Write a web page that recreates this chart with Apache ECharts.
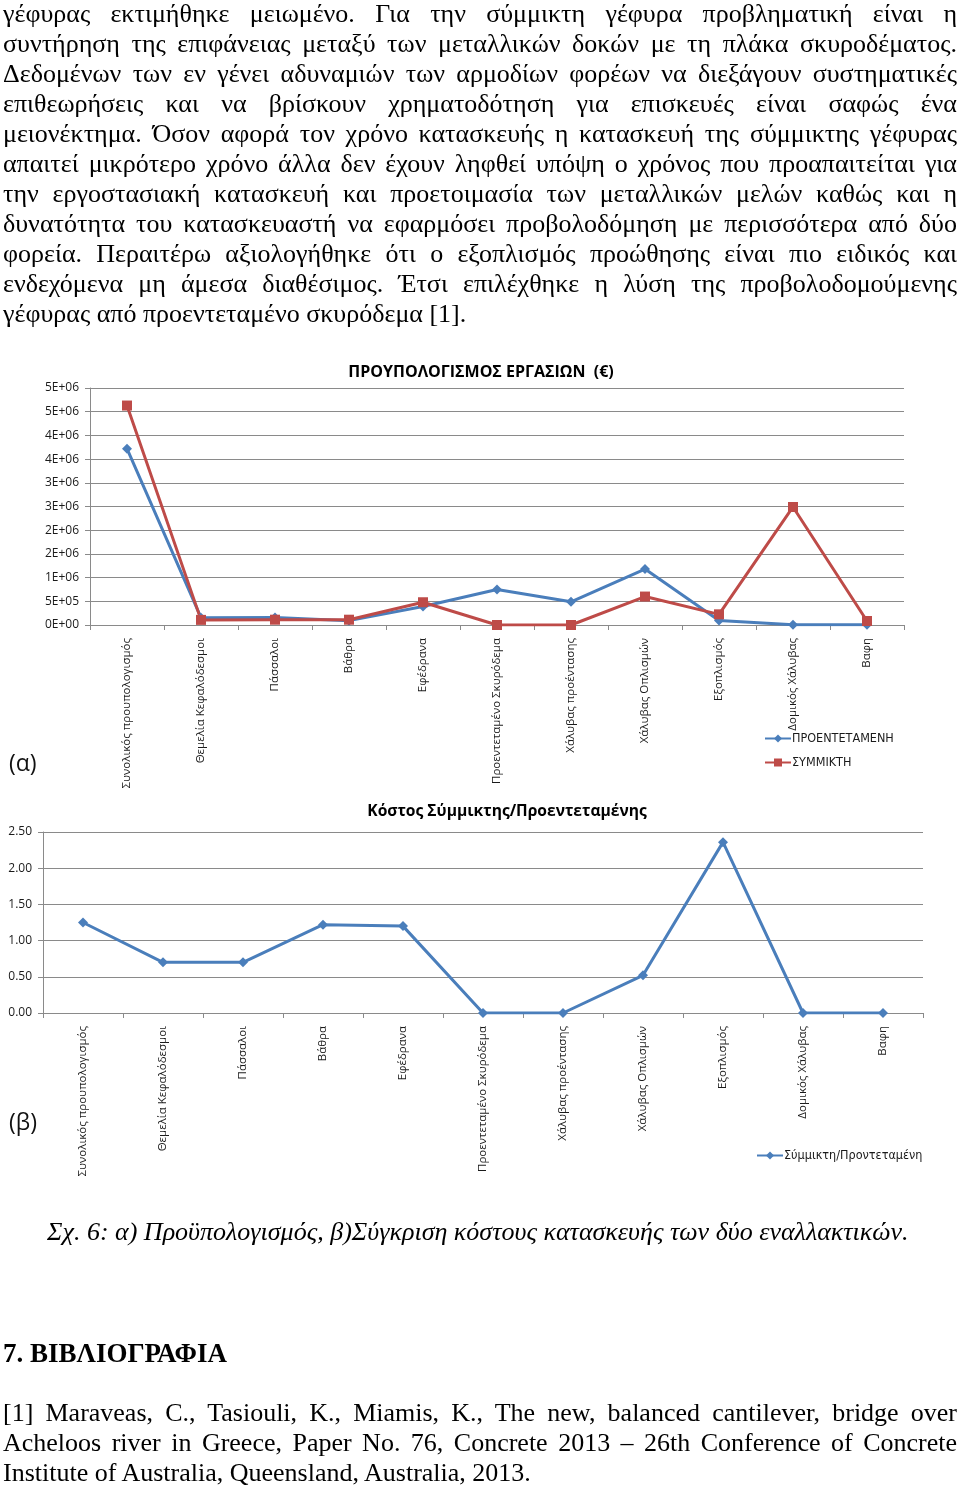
<!DOCTYPE html>
<html>
<head>
<meta charset="utf-8">
<script src="https://cdn.jsdelivr.net/npm/echarts@6/dist/echarts.min.js"></script>
<style>
  html, body { margin:0; padding:0; background:#fff; }
  body { width:960px; height:1486px; position:relative; overflow:hidden; }
  #chart { position:absolute; left:0; top:0; width:960px; height:1486px; z-index:0; }
  .ln { position:absolute; left:3px; width:954px; font-family:"Liberation Serif","Times New Roman",serif; font-size:26px; line-height:30px; color:#000; white-space:nowrap; z-index:1; }
</style>
</head>
<body>
<div id="chart"></div>
<div id="text"></div>
<script>
// ---------- data ----------
const categories = ['Συνολικός προυπολογισμός','Θεμελία Κεφαλόδεσμοι','Πάσσαλοι','Βάθρα','Εφέδρανα','Προεντεταμένο Σκυρόδεμα','Χάλυβας προέντασης','Χάλυβας Οπλισμών','Εξοπλισμός','Δομικός Χάλυβας','Βαφη'];
const prestressed = [3720000, 155000, 160000, 92000, 390000, 750000, 490000, 1180000, 95000, 5000, 5000];
const composite = [4630000, 108000, 112000, 112000, 480000, 0, 0, 600000, 225000, 2490000, 85000];
const ratio = [1.25, 0.70, 0.70, 1.22, 1.20, 0, 0, 0.52, 2.36, 0, 0];
const yTicks1 = ['0E+00','5E+05','1E+06','2E+06','2E+06','3E+06','3E+06','4E+06','4E+06','5E+06','5E+06'];
const yTicks2 = ['0.00','0.50','1.00','1.50','2.00','2.50'];

const paraLines = [
  ['γέφυρας εκτιμήθηκε μειωμένο. Για την σύμμικτη γέφυρα προβληματική είναι η', true],
  ['συντήρηση της επιφάνειας μεταξύ των μεταλλικών δοκών με τη πλάκα σκυροδέματος.', true],
  ['Δεδομένων των εν γένει αδυναμιών των αρμοδίων φορέων να διεξάγουν συστηματικές', true],
  ['επιθεωρήσεις και να βρίσκουν χρηματοδότηση για επισκευές είναι σαφώς ένα', true],
  ['μειονέκτημα. Όσον αφορά τον χρόνο κατασκευής η κατασκευή της σύμμικτης γέφυρας', true],
  ['απαιτεί μικρότερο χρόνο άλλα δεν έχουν ληφθεί υπόψη ο χρόνος που προαπαιτείται για', true],
  ['την εργοστασιακή κατασκευή και προετοιμασία των μεταλλικών μελών καθώς και η', true],
  ['δυνατότητα του κατασκευαστή να εφαρμόσει προβολοδόμηση με περισσότερα από δύο', true],
  ['φορεία. Περαιτέρω αξιολογήθηκε ότι ο εξοπλισμός προώθησης είναι πιο ειδικός και', true],
  ['ενδεχόμενα μη άμεσα διαθέσιμος. Έτσι επιλέχθηκε η λύση της προβολοδομούμενης', true],
  ['γέφυρας από προεντεταμένο σκυρόδεμα [1].', false]
];
const refLines = [
  ['[1] Maraveas, C., Tasiouli, K., Miamis, K., The new, balanced cantilever, bridge over', true],
  ['Acheloos river in Greece, Paper No. 76, Concrete 2013 – 26th Conference of Concrete', true],
  ['Institute of Australia, Queensland, Australia, 2013.', false]
];
const captionText = 'Σχ. 6: α) Προϋπολογισμός, β)Σύγκριση κόστους κατασκευής των δύο εναλλακτικών.';
const headingText = '7. ΒΙΒΛΙΟΓΡΑΦΙΑ';

// ---------- text ----------
const textRoot = document.getElementById('text');
const justified = [];
function addLine(str, top, just, extraStyle) {
  const d = document.createElement('div');
  d.className = 'ln';
  d.style.top = top + 'px';
  if (extraStyle) Object.assign(d.style, extraStyle);
  const s = document.createElement('span');
  s.textContent = str;
  d.appendChild(s);
  textRoot.appendChild(d);
  if (just) justified.push(s);
  return d;
}
paraLines.forEach((l, i) => addLine(l[0], -1 + 30 * i, l[1]));
addLine(captionText, 1217, false, {left:'47px', fontStyle:'italic'});
addLine(headingText, 1338, false, {fontWeight:'bold', fontSize:'27px'});
refLines.forEach((l, i) => addLine(l[0], 1398 + 30 * i, l[1]));

function justify() {
  justified.forEach(s => {
    s.style.wordSpacing = '0px';
    const w = s.getBoundingClientRect().width;
    const n = (s.textContent.match(/ /g) || []).length;
    if (n > 0) s.style.wordSpacing = ((954 - w) / n) + 'px';
  });
}
justify();
if (document.fonts && document.fonts.ready) document.fonts.ready.then(justify);

// ---------- chart ----------
const blue = '#4A7EBB';
const red = '#BE4B48';
const gridColor = '#8a8a8a';
const lblColor = '#1a1a1a';
const sans = '"Open Sans", "Noto Sans", sans-serif';
const narrow = '"Liberation Sans Narrow", "DejaVu Sans Condensed", sans-serif';

function xAxisCfg(gi) {
  return {
    gridIndex: gi, type: 'category', data: categories, boundaryGap: true,
    axisLine: { show: true, lineStyle: { color: gridColor, width: 1 } },
    axisTick: { show: true, interval: 0, length: 5, lineStyle: { color: gridColor } },
    axisLabel: { interval: 0, rotate: 90, margin: 13, fontSize: 11.5, fontFamily: sans, color: lblColor }
  };
}

const chart = echarts.init(document.getElementById('chart'), null, { renderer: 'canvas' });
chart.setOption({
  animation: false,
  backgroundColor: 'transparent',
  grid: [
    { left: 90, top: 388, width: 814, height: 237 },
    { left: 43, top: 832, width: 880, height: 181 }
  ],
  xAxis: [xAxisCfg(0), xAxisCfg(1)],
  yAxis: [
    {
      gridIndex: 0, type: 'value', min: 0, max: 5000000, interval: 500000,
      axisLine: { show: true, lineStyle: { color: gridColor } },
      axisTick: { show: true, length: 5, lineStyle: { color: gridColor } },
      splitLine: { show: true, lineStyle: { color: gridColor, width: 1 } },
      axisLabel: { margin: 11, fontSize: 12, fontFamily: sans, color: lblColor,
        formatter: v => yTicks1[Math.round(v / 500000)] }
    },
    {
      gridIndex: 1, type: 'value', min: 0, max: 2.5, interval: 0.5,
      axisLine: { show: true, lineStyle: { color: gridColor } },
      axisTick: { show: true, length: 5, lineStyle: { color: gridColor } },
      splitLine: { show: true, lineStyle: { color: gridColor, width: 1 } },
      axisLabel: { margin: 11, fontSize: 12, fontFamily: sans, color: lblColor,
        formatter: v => yTicks2[Math.round(v / 0.5)] }
    }
  ],
  legend: [
    { data: ['ΠΡΟΕΝΤΕΤΑΜΕΝΗ', 'ΣΥΜΜΙΚΤΗ'], orient: 'vertical', left: 764, top: 732,
      itemGap: 11, itemWidth: 26, itemHeight: 10, padding: 0,
      textStyle: { fontFamily: narrow, fontSize: 12.5, color: lblColor, padding: [0,0,0,-4] } },
    { data: ['Σύμμικτη/Προντεταμένη'], orient: 'vertical', left: 756, top: 1149,
      itemWidth: 26, itemHeight: 10, padding: 0,
      textStyle: { fontFamily: narrow, fontSize: 12.5, color: lblColor, padding: [0,0,0,-4] } }
  ],
  graphic: [
    { type: 'text', x: 481, y: 372, style: { text: 'ΠΡΟΥΠΟΛΟΓΙΣΜΟΣ ΕΡΓΑΣΙΩΝ  (€)', fill: '#000',
      font: 'bold 16px "Open Sans", sans-serif', align: 'center', verticalAlign: 'middle' } },
    { type: 'text', x: 507, y: 812, style: { text: 'Κόστος Σύμμικτης/Προεντεταμένης', fill: '#000',
      font: 'bold 15.6px "Open Sans", sans-serif', align: 'center', verticalAlign: 'middle' } },
    { type: 'text', x: 9, y: 764, style: { text: '(α)', fill: '#111',
      font: '23px "Open Sans", sans-serif', align: 'left', verticalAlign: 'middle' } },
    { type: 'text', x: 9, y: 1123, style: { text: '(β)', fill: '#111',
      font: '23px "Open Sans", sans-serif', align: 'left', verticalAlign: 'middle' } }
  ],
  series: [
    { name: 'ΠΡΟΕΝΤΕΤΑΜΕΝΗ', type: 'line', xAxisIndex: 0, yAxisIndex: 0, data: prestressed,
      symbol: 'diamond', symbolSize: 10, showAllSymbol: true,
      lineStyle: { width: 3, color: blue }, itemStyle: { color: blue } },
    { name: 'ΣΥΜΜΙΚΤΗ', type: 'line', xAxisIndex: 0, yAxisIndex: 0, data: composite,
      symbol: 'rect', symbolSize: 10, showAllSymbol: true,
      lineStyle: { width: 3, color: red }, itemStyle: { color: red } },
    { name: 'Σύμμικτη/Προντεταμένη', type: 'line', xAxisIndex: 1, yAxisIndex: 1, data: ratio,
      symbol: 'diamond', symbolSize: 10, showAllSymbol: true,
      lineStyle: { width: 3, color: blue }, itemStyle: { color: blue } }
  ]
});
</script>
</body>
</html>
